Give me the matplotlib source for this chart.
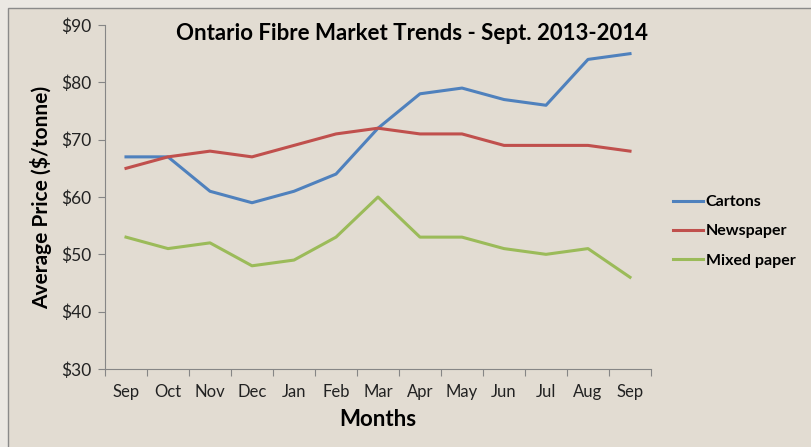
import matplotlib.pyplot as plt
from matplotlib.patches import Rectangle
from matplotlib.ticker import FuncFormatter

# %% data
months = ["Sep", "Oct", "Nov", "Dec", "Jan", "Feb", "Mar",
          "Apr", "May", "Jun", "Jul", "Aug", "Sep"]
cartons = [67, 67, 61, 59, 61, 64, 72, 78, 79, 77, 76, 84, 85]
newspaper = [65, 67, 68, 67, 69, 71, 72, 71, 71, 69, 69, 69, 68]
mixed_paper = [53, 51, 52, 48, 49, 53, 60, 53, 53, 51, 50, 51, 46]
y_ticks = [30, 40, 50, 60, 70, 80, 90]

plt.rcParams["font.family"] = ["Lato", "DejaVu Sans"]

# %% figure
fig = plt.figure(figsize=(8.12, 4.47), dpi=100)
fig.patch.set_facecolor("#ebe8e3")
# chart area panel
fig.patches.append(Rectangle((8 / 812, -0.05), 1.0, 1 - 8 / 447 + 0.05,
                             transform=fig.transFigure, facecolor="#e2dcd2",
                             edgecolor="#8a8a8a", linewidth=1.0, zorder=-5))

ax = fig.add_axes([105 / 812, 1 - 369 / 447, 546 / 812, 344 / 447])
ax.patch.set_alpha(0)

x = list(range(len(months)))
ax.plot(x, cartons, color="#4f81bd", lw=2.2, label="Cartons")
ax.plot(x, newspaper, color="#c0504d", lw=2.2, label="Newspaper")
ax.plot(x, mixed_paper, color="#9bbb59", lw=2.2, label="Mixed paper")

ax.set_xlim(-0.5, len(months) - 0.5)
ax.set_ylim(30, 90)
ax.set_yticks(y_ticks)
ax.yaxis.set_major_formatter(FuncFormatter(lambda v, p: f"${v:.0f}"))
# ticks between categories, labels at category centres
ax.set_xticks([i - 0.5 for i in range(len(months) + 1)])
ax.set_xticklabels([])
ax.set_xticks(x, minor=True)
ax.set_xticklabels(months, minor=True)
ax.tick_params(axis="x", which="minor", length=0, pad=11, labelsize=12, colors="#222222")
ax.tick_params(axis="x", which="major", length=5, color="#868686")
ax.tick_params(axis="y", length=5, color="#868686", labelsize=12.5, labelcolor="#222222", pad=5)

for s in ["top", "right"]:
    ax.spines[s].set_visible(False)
for s in ["left", "bottom"]:
    ax.spines[s].set_color("#868686")

ax.set_xlabel("Months", fontsize=16, fontweight="bold", labelpad=6)
ax.set_ylabel("Average Price ($/tonne)", fontsize=15, fontweight="bold", labelpad=6)

fig.text(412 / 812, 1 - 33 / 447, "Ontario Fibre Market Trends - Sept. 2013-2014",
         ha="center", va="center", fontsize=16, fontweight="bold")

leg = ax.legend(loc="center left", frameon=False, borderaxespad=0, borderpad=0,
                handlelength=1.9, handletextpad=0.15, labelspacing=0.95,
                prop={"weight": "bold", "size": 11.5})
leg.set_bbox_to_anchor((1.040, 0.40), transform=ax.transAxes)

plt.savefig("out.png", dpi=100)
